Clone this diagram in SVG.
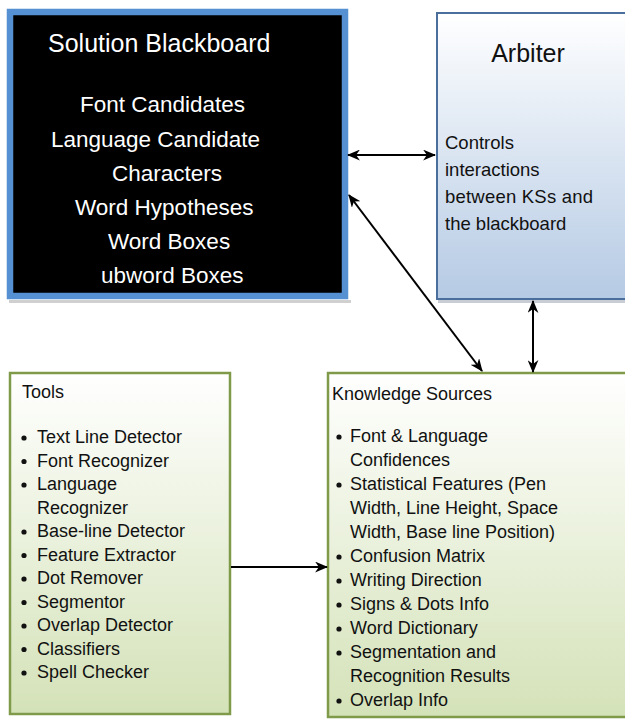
<svg xmlns="http://www.w3.org/2000/svg" width="625" height="727" viewBox="0 0 625 727">
<defs>
<linearGradient id="gBlue" x1="0" y1="0" x2="0" y2="1">
<stop offset="0" stop-color="#ffffff"/>
<stop offset="1" stop-color="#b5cae4"/>
</linearGradient>
<linearGradient id="gGreen" x1="0" y1="0" x2="0" y2="1">
<stop offset="0" stop-color="#ffffff"/>
<stop offset="1" stop-color="#d4e2b8"/>
</linearGradient>
<marker id="ah" viewBox="0 0 12 10" refX="11" refY="5" markerWidth="6.5" markerHeight="5.5" orient="auto-start-reverse" markerUnits="strokeWidth">
<path d="M0,0 L12,5 L0,10 L3.5,5 z" fill="#000"/>
</marker>
</defs>
<style>
text{font-family:"Liberation Sans",Arial,sans-serif;}
.w{fill:#ffffff;font-size:22.5px;}
.t{fill:#111;font-size:18px;}
.a{fill:#111;font-size:18.5px;}
.green{fill:url(#gGreen);stroke:#7f9a48;stroke-width:2.5;}
.conn{stroke:#000;stroke-width:2;fill:none;marker-start:url(#ah);marker-end:url(#ah);}
.one{stroke:#000;stroke-width:2;fill:none;marker-end:url(#ah);}
</style>
<rect width="625" height="727" fill="#ffffff"/>

<g id="blackboard">
<rect x="9" y="300" width="342" height="3" fill="#d0d0d0"/>
<rect x="10" y="12" width="335" height="284" fill="#000" stroke="#5590d2" stroke-width="6.5"/>
<text class="w" x="48" y="52" style="font-size:25px">Solution Blackboard</text>
<text class="w" x="80" y="112">Font Candidates</text>
<text class="w" x="51" y="146.5">Language Candidate</text>
<text class="w" x="112" y="181">Characters</text>
<text class="w" x="75" y="215">Word Hypotheses</text>
<text class="w" x="108" y="249">Word Boxes</text>
<text class="w" x="101" y="283">ubword Boxes</text>
</g>

<g id="arbiter">
<rect x="438" y="300" width="200" height="3" fill="#c8ccd4"/>
<rect x="437" y="13" width="200" height="286" fill="url(#gBlue)" stroke="#4a6f9c" stroke-width="2"/>
<text x="528" y="62" text-anchor="middle" style="font-size:25px;fill:#111">Arbiter</text>
<text class="a" x="445" y="149">Controls</text>
<text class="a" x="445" y="176">interactions</text>
<text class="a" x="445" y="203" textLength="148" lengthAdjust="spacing">between KSs and</text>
<text class="a" x="445" y="230">the blackboard</text>
</g>

<g id="tools">
<rect x="10" y="373" width="220" height="341" class="green"/>
<text class="t" x="22" y="398">Tools</text>
<g>
<circle cx="24" cy="438" r="2.6" fill="#111"/>
<circle cx="24" cy="461.5" r="2.6" fill="#111"/>
<circle cx="24" cy="485" r="2.6" fill="#111"/>
<circle cx="24" cy="532" r="2.6" fill="#111"/>
<circle cx="24" cy="555.5" r="2.6" fill="#111"/>
<circle cx="24" cy="579" r="2.6" fill="#111"/>
<circle cx="24" cy="602.5" r="2.6" fill="#111"/>
<circle cx="24" cy="626" r="2.6" fill="#111"/>
<circle cx="24" cy="649.5" r="2.6" fill="#111"/>
<circle cx="24" cy="673" r="2.6" fill="#111"/>
</g>
<text class="t" x="37" y="443">Text Line Detector</text>
<text class="t" x="37" y="466.5">Font Recognizer</text>
<text class="t" x="37" y="490">Language</text>
<text class="t" x="37" y="513.5">Recognizer</text>
<text class="t" x="37" y="537">Base-line Detector</text>
<text class="t" x="37" y="560.5">Feature Extractor</text>
<text class="t" x="37" y="584">Dot Remover</text>
<text class="t" x="37" y="607.5">Segmentor</text>
<text class="t" x="37" y="631">Overlap Detector</text>
<text class="t" x="37" y="654.5">Classifiers</text>
<text class="t" x="37" y="678">Spell Checker</text>
</g>

<g id="knowledge-sources">
<rect x="328" y="373" width="310" height="344" class="green"/>
<text class="t" x="332" y="400">Knowledge Sources</text>
<g>
<circle cx="339" cy="437" r="2.6" fill="#111"/>
<circle cx="339" cy="485" r="2.6" fill="#111"/>
<circle cx="339" cy="557" r="2.6" fill="#111"/>
<circle cx="339" cy="581" r="2.6" fill="#111"/>
<circle cx="339" cy="605" r="2.6" fill="#111"/>
<circle cx="339" cy="629" r="2.6" fill="#111"/>
<circle cx="339" cy="653" r="2.6" fill="#111"/>
<circle cx="339" cy="701" r="2.6" fill="#111"/>
</g>
<text class="t" x="350" y="442">Font &amp; Language</text>
<text class="t" x="350" y="466">Confidences</text>
<text class="t" x="350" y="490">Statistical Features (Pen</text>
<text class="t" x="350" y="514">Width, Line Height, Space</text>
<text class="t" x="350" y="538">Width, Base line Position)</text>
<text class="t" x="350" y="562">Confusion Matrix</text>
<text class="t" x="350" y="586">Writing Direction</text>
<text class="t" x="350" y="610">Signs &amp; Dots Info</text>
<text class="t" x="350" y="634">Word Dictionary</text>
<text class="t" x="350" y="658">Segmentation and</text>
<text class="t" x="350" y="682">Recognition Results</text>
<text class="t" x="350" y="706">Overlap Info</text>
</g>

<g id="connectors">
<line class="conn" x1="348" y1="155" x2="435" y2="155"/>
<line class="conn" x1="349" y1="195" x2="482" y2="371"/>
<line class="conn" x1="533" y1="301" x2="533" y2="372"/>
<line class="one" x1="231" y1="567" x2="327" y2="567"/>
</g>
</svg>
